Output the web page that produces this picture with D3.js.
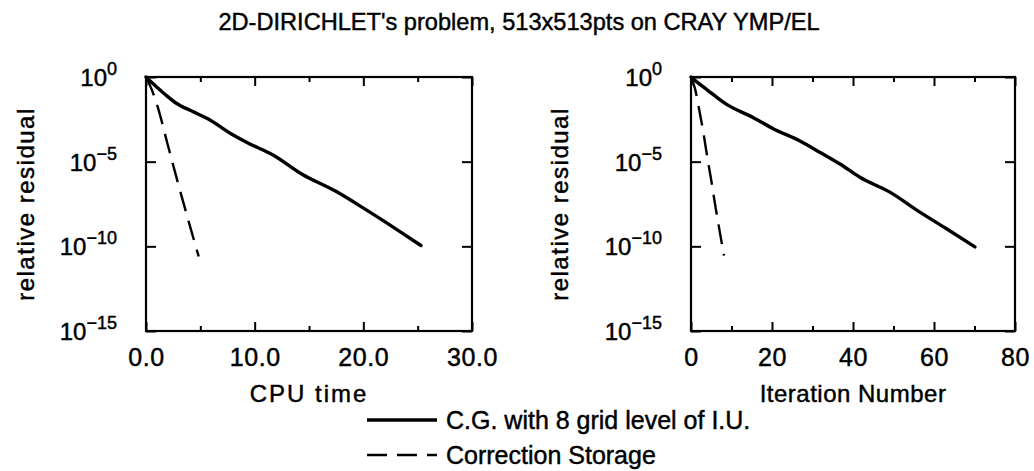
<!DOCTYPE html>
<html><head><meta charset="utf-8">
<script src="https://cdn.jsdelivr.net/npm/d3@7"></script>
<style>
body{margin:0;background:#fff;}
text{font-family:"Liberation Sans",Arial,Helvetica,sans-serif;fill:#000;stroke:#000;stroke-width:0.45px;}
</style></head>
<body><svg id="c" width="1034" height="471"></svg>
<script>
// ---- data (log10 of relative residual) ----
const cpuSolid = [[0,0],[0.4,-0.25],[0.95,-0.57],[1.8,-1.05],[2.79,-1.55],[4.31,-2.04],[5.69,-2.47],[7.98,-3.41],[9.51,-3.94],[11.65,-4.59],[14.4,-5.76],[17.47,-6.75],[20.2,-7.82],[23.3,-9.1],[25.3,-9.95]];
const cpuDashed = [[0,0],[0.5,-0.7],[1.0,-1.6],[2.0,-4.0],[3.0,-6.4],[4.0,-8.7],[4.85,-10.6]];
const iterSolid = [[0,0],[1.5,-0.3],[3.9,-0.74],[8.8,-1.62],[15.4,-2.40],[20.3,-3.05],[26.9,-3.78],[31.9,-4.46],[36.8,-5.14],[41.7,-5.92],[49.1,-6.80],[56.5,-7.98],[63.1,-8.96],[70.1,-10.03]];
const iterDashed = [[0,0],[1,-0.7],[2,-1.9],[3,-3.2],[4,-4.7],[5,-6.1],[6,-7.6],[7,-9.0],[8.15,-10.55]];
const yTickExps = [0,-5,-10,-15];
const cpuTicks = [0,10,20,30];
const cpuMinor = [5,15,25];
const iterTicks = [0,20,40,60,80];
const iterMinor = [10,30,50,70];
const titleText = "2D-DIRICHLET's problem, 513x513pts on CRAY YMP/EL";
const legendLabels = ["C.G. with 8 grid level of I.U.","Correction Storage"];

const svg = d3.select("#c");
const plotTop = 77, plotBottom = 331;

svg.append("text").attr("x",519).attr("y",30).attr("text-anchor","middle")
  .style("font-size","23.6px").text(titleText);

function panel(x0,x1,domain,ticks,minor,fmt,xlabel,xls,solid,dashed,ylabX){
  const x = d3.scaleLinear().domain(domain).range([x0,x1]);
  const y = d3.scaleLinear().domain([0,-15]).range([plotTop,plotBottom]);
  const g = svg.append("g");
  g.append("rect").attr("x",x0).attr("y",plotTop).attr("width",x1-x0).attr("height",plotBottom-plotTop)
    .attr("fill","none").attr("stroke","#000").attr("stroke-width",2.2);
  const xb = d3.axisBottom(x).tickValues(ticks).tickSize(-9).tickFormat(fmt).tickPadding(17);
  const ga = g.append("g").attr("transform",`translate(0,${plotBottom})`).call(xb);
  ga.select(".domain").remove();
  ga.selectAll("line").attr("stroke-width",2);
  ga.attr("font-family",null).attr("font-size",null);
  ga.selectAll("text").style("font-size","25px").style("letter-spacing","0.6px");
  const xbm = d3.axisBottom(x).tickValues(minor).tickSize(-5).tickFormat("");
  const gm = g.append("g").attr("transform",`translate(0,${plotBottom})`).call(xbm);
  gm.select(".domain").remove(); gm.selectAll("line").attr("stroke-width",2);
  const xt = d3.axisTop(x).tickValues(ticks).tickSize(-9).tickFormat("");
  const gt = g.append("g").attr("transform",`translate(0,${plotTop})`).call(xt);
  gt.select(".domain").remove(); gt.selectAll("line").attr("stroke-width",2);
  const xtm = d3.axisTop(x).tickValues(minor).tickSize(-5).tickFormat("");
  const gtm = g.append("g").attr("transform",`translate(0,${plotTop})`).call(xtm);
  gtm.select(".domain").remove(); gtm.selectAll("line").attr("stroke-width",2);
  const yl = d3.axisLeft(y).tickValues(yTickExps).tickSize(-10).tickFormat("");
  const gyl = g.append("g").attr("transform",`translate(${x0},0)`).call(yl);
  gyl.select(".domain").remove(); gyl.selectAll("line").attr("stroke-width",2);
  const yr = d3.axisRight(y).tickValues(yTickExps).tickSize(-10).tickFormat("");
  const gyr = g.append("g").attr("transform",`translate(${x1},0)`).call(yr);
  gyr.select(".domain").remove(); gyr.selectAll("line").attr("stroke-width",2);
  yTickExps.forEach(e=>{
    const t = g.append("text").attr("x",x0-29).attr("y",y(e)+9).attr("text-anchor","end").style("font-size","24px");
    t.append("tspan").text("10");
    t.append("tspan").attr("dy",-11).style("font-size","18px").text(e===0?"0":"\u2212"+(-e));
  });
  g.append("text").attr("x",(x0+x1)/2).attr("y",402).attr("text-anchor","middle")
    .style("font-size","24px").style("letter-spacing",xls).text(xlabel);
  g.append("text").attr("transform",`translate(${ylabX},${(plotTop+plotBottom)/2}) rotate(-90)`)
    .attr("text-anchor","middle").style("font-size","24px").style("letter-spacing","1.5px").text("relative residual");
  const line = d3.line().x(d=>x(d[0])).y(d=>y(d[1])).curve(d3.curveMonotoneX);
  g.append("path").datum(solid).attr("d",line).attr("fill","none").attr("stroke","#000")
    .attr("stroke-width",3.4).attr("stroke-linejoin","round").attr("stroke-linecap","round");
  g.append("path").datum(dashed).attr("d",line).attr("fill","none").attr("stroke","#000")
    .attr("stroke-width",2.4).attr("stroke-dasharray","20,10");
}

panel(146,472,[0,30],cpuTicks,cpuMinor,d=>d.toFixed(1),"CPU time","2px",cpuSolid,cpuDashed,34);
panel(691,1015,[0,80],iterTicks,iterMinor,d3.format("d"),"Iteration Number","0.5px",iterSolid,iterDashed,568);

const lg = svg.append("g");
[0,1].forEach(i=>{
  const yy = 420 + i*35;
  lg.append("line").attr("x1",367).attr("x2",437).attr("y1",yy).attr("y2",yy)
    .attr("stroke","#000").attr("stroke-width",i===0?3.4:2.4).attr("stroke-dasharray",i===0?null:"20,10");
  lg.append("text").attr("x",446).attr("y",yy+9).style("font-size","25px").text(legendLabels[i]);
});
</script></body></html>
